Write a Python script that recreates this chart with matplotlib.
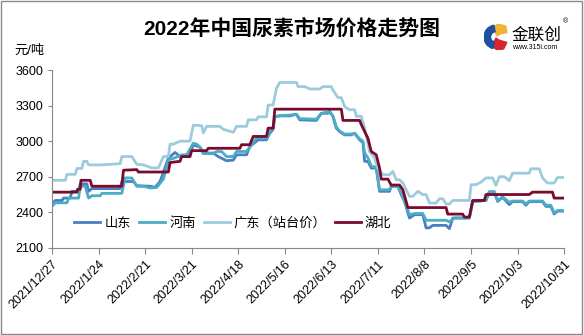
import numpy as np
import matplotlib.pyplot as plt
import matplotlib.patches as mpatches
import pandas as pd

plt.rcParams['font.family'] = ['Liberation Sans', 'Noto Sans CJK SC']

# Dane (dni od 2021/12/27, cena w yuan/t)
sd_days = [0, 2, 6, 7, 11, 12, 16, 17, 21, 22, 24, 41, 42, 49, 51, 59, 62, 65, 70, 74, 77, 83, 85, 89,
           91, 97, 100, 105, 109, 111, 117, 119, 124, 129, 131, 133, 134, 137, 143, 147, 149, 159, 162,
           166, 167, 169, 171, 173, 176, 180, 182, 185, 187, 188, 190, 192, 195, 197, 203, 204, 208,
           210, 212, 215, 218, 223, 225, 227, 229, 237, 239, 241, 251, 253, 261, 263, 266, 268, 271,
           275, 277, 283, 285, 287, 295, 297, 300, 302, 304, 308]
sd_vals = [2470, 2500, 2500, 2520, 2520, 2577, 2577, 2640, 2640, 2577, 2600, 2600, 2660, 2660, 2624,
           2620, 2610, 2660, 2857, 2905, 2870, 2890, 2969, 2950, 2900, 2900, 2870, 2835, 2840, 2885,
           2885, 2955, 3011, 3011, 3067, 3100, 3207, 3213, 3213, 3227, 3180, 3175, 3235, 3235, 3250,
           3207, 3110, 3080, 3053, 3053, 3067, 3011, 2990, 2830, 2830, 2773, 2773, 2577, 2577, 2620,
           2620, 2550, 2492, 2352, 2380, 2380, 2268, 2270, 2290, 2290, 2262, 2352, 2352, 2492, 2500,
           2570, 2570, 2492, 2526, 2465, 2490, 2490, 2460, 2490, 2490, 2450, 2450, 2386, 2410, 2410]

hn_days = [0, 2, 9, 10, 16, 17, 20, 22, 24, 29, 30, 42, 44, 48, 51, 55, 59, 63, 67, 70, 74, 78, 81, 85,
           87, 89, 91, 97, 99, 102, 105, 109, 111, 117, 120, 123, 129, 131, 133, 134, 137, 143, 147,
           149, 159, 162, 167, 169, 171, 173, 176, 180, 182, 185, 187, 188, 190, 192, 195, 197, 203,
           204, 208, 210, 212, 215, 218, 223, 225, 237, 239, 242, 251, 253, 261, 263, 266, 268, 271,
           275, 277, 283, 285, 287, 295, 297, 300, 302, 304, 308]
hn_vals = [2450, 2480, 2480, 2520, 2520, 2620, 2620, 2520, 2540, 2540, 2560, 2560, 2690, 2690, 2620,
           2620, 2605, 2610, 2680, 2843, 2860, 2885, 2885, 2983, 2975, 2950, 2895, 2895, 2913, 2913,
           2870, 2870, 2913, 2913, 2970, 3025, 3025, 3080, 3110, 3207, 3215, 3220, 3227, 3190, 3185,
           3235, 3250, 3210, 3120, 3085, 3060, 3060, 3067, 3020, 3000, 2900, 2860, 2790, 2780, 2590,
           2590, 2620, 2620, 2560, 2500, 2380, 2390, 2390, 2333, 2333, 2320, 2352, 2352, 2492, 2500,
           2575, 2575, 2500, 2530, 2485, 2495, 2495, 2470, 2495, 2495, 2460, 2460, 2395, 2415, 2415]

gd_days = [0, 8, 9, 14, 15, 18, 19, 21, 22, 29, 41, 42, 48, 51, 55, 60, 64, 67, 70, 71, 73, 77, 83,
           85, 90, 91, 93, 101, 103, 109, 111, 117, 118, 123, 124, 129, 130, 133, 135, 137, 147, 148,
           152, 155, 161, 163, 168, 169, 172, 174, 176, 179, 182, 183, 186, 188, 191, 194, 196, 199,
           203, 205, 207, 209, 211, 215, 217, 220, 223, 225, 227, 231, 233, 235, 237, 239, 241, 251,
           252, 255, 258, 261, 265, 267, 269, 272, 275, 277, 287, 288, 293, 295, 298, 302, 304, 308]
gd_vals = [2670, 2670, 2720, 2720, 2770, 2770, 2830, 2830, 2800, 2800, 2810, 2870, 2870, 2805, 2800,
           2775, 2775, 2870, 2870, 2975, 2975, 3000, 3000, 3135, 3130, 3070, 3125, 3125, 3100, 3075,
           3125, 3125, 3180, 3180, 3205, 3205, 3305, 3305, 3445, 3495, 3495, 3460, 3460, 3440, 3440,
           3460, 3460, 3430, 3367, 3367, 3290, 3265, 3265, 3210, 3210, 3110, 2913, 2857, 2773, 2717,
           2717, 2745, 2675, 2675, 2647, 2535, 2535, 2577, 2550, 2550, 2478, 2478, 2515, 2515, 2470,
           2470, 2500, 2500, 2633, 2633, 2655, 2690, 2690, 2627, 2700, 2700, 2667, 2730, 2730, 2767,
           2767, 2690, 2647, 2647, 2694, 2694]

hb_days = [0, 15, 15.4, 17, 17.4, 23, 24, 42, 43, 51, 52, 70, 71, 77, 78, 83, 84, 93, 94, 113, 114,
           119, 121, 129, 130, 133, 134, 174, 175, 185, 186, 190, 192, 195, 197, 198, 202, 204, 209,
           211, 214, 237, 238, 247, 248, 251, 253, 260, 261, 287, 289, 301, 302, 308]
hb_vals = [2570, 2570, 2595, 2595, 2670, 2670, 2620, 2620, 2755, 2760, 2740, 2740, 2820, 2830, 2870,
           2870, 2920, 2920, 2940, 2940, 2970, 2970, 3040, 3040, 3110, 3110, 3270, 3270, 3175, 3175,
           3140, 3025, 2913, 2885, 2773, 2680, 2680, 2630, 2630, 2590, 2440, 2440, 2385, 2385, 2360,
           2360, 2500, 2500, 2550, 2550, 2570, 2570, 2520, 2520]

start = pd.Timestamp("2021-12-27")
tick_days = list(range(0, 309, 28))
tick_labels = [f"{d.year}/{d.month}/{d.day}" for d in (start + pd.to_timedelta(tick_days, unit="D"))]

fig = plt.figure(figsize=(5.84, 3.35), dpi=100)
ax = fig.add_axes([0.089, 0.260, 0.877, 0.531])

ax.plot(sd_days, sd_vals, color="#4A7EC2", lw=2, label="山东")
ax.plot(hn_days, hn_vals, color="#4BACC6", lw=2, label="河南")
ax.plot(gd_days, gd_vals, color="#9DCBDE", lw=2, label="广东（站台价）")
ax.plot(hb_days, hb_vals, color="#7A0A2E", lw=2, label="湖北")

ax.set_xlim(0, 308)
ax.set_ylim(2100, 3600)
ax.set_yticks(range(2100, 3601, 300))
ax.set_xticks(tick_days)
ax.set_xticklabels(tick_labels, rotation=45, ha="right", rotation_mode="anchor", fontsize=9)
ax.tick_params(axis="y", labelsize=9, length=3, color="#888888")
ax.tick_params(axis="x", length=4, color="#888888")
for s in ["top", "right"]:
    ax.spines[s].set_visible(False)
for s in ["left", "bottom"]:
    ax.spines[s].set_color("#888888")

ax.legend(loc="lower left", bbox_to_anchor=(0.025, 0.05), ncol=4, frameon=False, fontsize=9.5,
          handlelength=2.0, columnspacing=0.6, handletextpad=0.3, borderpad=0.2)

fig.text(0.5, 0.916, "2022年中国尿素市场价格走势图", ha="center", va="center",
         fontsize=15, fontweight="bold")
fig.text(0.025, 0.848, "元/吨", fontsize=9.5, va="center")

# logo
lax = fig.add_axes([484 / 584, 1 - 50 / 335, 24 / 584, 26 / 335])
lax.set_xlim(0, 22)
lax.set_ylim(0, 24)
lax.axis("off")
lax.add_patch(mpatches.Polygon([(8, 21), (13, 24), (20, 22), (21, 16), (15, 15), (12, 13)],
                               color="#F2B233"))
lax.add_patch(mpatches.Polygon([(7, 4), (12, 0), (18, 1), (21, 7), (14, 9), (11, 11)],
                               color="#D9262C"))
lax.add_patch(mpatches.Wedge((11, 12), 11, 100, 255, width=6, color="#1E4FA0"))
fig.text(0.918, 0.895, "金联创", fontsize=12, ha="center", va="center")
fig.text(0.968, 0.935, "®", fontsize=5, ha="center", va="center")
fig.text(0.916, 0.858, "www.315i.com", fontsize=5, ha="center", va="center")

# ramka
fig.patches.append(mpatches.Rectangle((0.002, 0.003), 0.995, 0.993, transform=fig.transFigure,
                                      fill=False, edgecolor="#888888", lw=1, figure=fig))

fig.savefig("out.png", dpi=100)
